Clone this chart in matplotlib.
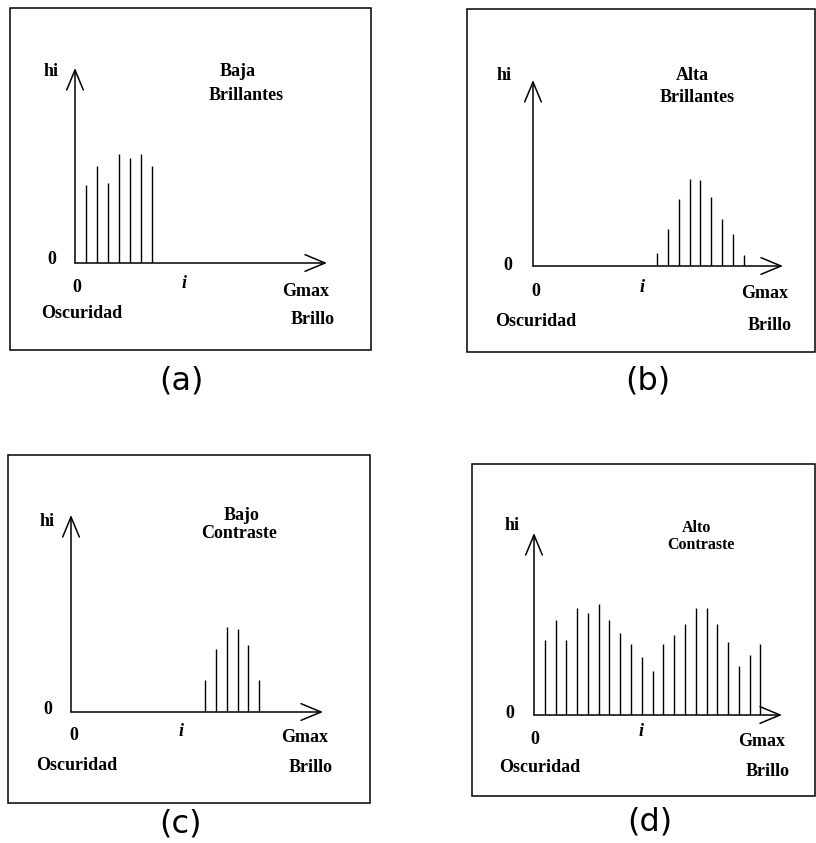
import matplotlib
matplotlib.use("Agg")
import matplotlib.pyplot as plt
from matplotlib.patches import Rectangle

W, H = 816, 843

# histogram data: bin position (in grey-level steps) and relative height
bins_a = [1, 2, 3, 4, 5, 6, 7]
hist_a = [0.40, 0.50, 0.41, 0.56, 0.54, 0.56, 0.50]

bins_b = [11.4, 12.4, 13.4, 14.4, 15.4, 16.4, 17.4, 18.4, 19.4]
hist_b = [0.07, 0.20, 0.36, 0.47, 0.46, 0.37, 0.25, 0.17, 0.06]

bins_c = [12.2, 13.2, 14.2, 15.2, 16.2, 17.2]
hist_c = [0.16, 0.32, 0.43, 0.42, 0.34, 0.16]

bins_d = list(range(1, 22))
hist_d = [0.41, 0.52, 0.41, 0.59, 0.56, 0.61, 0.52, 0.45, 0.39, 0.32, 0.24,
          0.39, 0.44, 0.50, 0.59, 0.59, 0.50, 0.40, 0.27, 0.33, 0.39]

titles = [("Baja", "Brillantes"), ("Alta", "Brillantes"),
          ("Bajo", "Contraste"), ("Alto", "Contraste")]
captions = ["(a)", "(b)", "(c)", "(d)"]

# layout in pixels (x from left, y from top)
panels = [
    dict(box=(10, 8, 371, 350), origin=(75, 263), top=68, end=327,
         hi=(51, 71), t1=(238, 72), t2=(246, 96), tsize=13,
         zy=(52, 260), zx=(77, 287),
         i=(184, 284), gmax=(306, 291), osc=(82, 313), brillo=(313, 320),
         cap=(181, 381)),
    dict(box=(467, 9, 815, 352), origin=(533, 266), top=80, end=783,
         hi=(504, 76), t1=(692, 75), t2=(697, 97), tsize=13,
         zy=(508, 265), zx=(536, 292),
         i=(642, 287), gmax=(765, 294), osc=(536, 321), brillo=(770, 325),
         cap=(648, 381)),
    dict(box=(8, 455, 370, 803), origin=(71, 712), top=515, end=323,
         hi=(47, 521), t1=(242, 515), t2=(239, 534), tsize=13,
         zy=(48, 710), zx=(74, 736),
         i=(181, 731), gmax=(305, 738), osc=(77, 765), brillo=(311, 768),
         cap=(180, 824)),
    dict(box=(472, 464, 815, 796), origin=(534, 715), top=533, end=782,
         hi=(512, 526), t1=(697, 528), t2=(701, 545), tsize=11.5,
         zy=(510, 713), zx=(535, 740),
         i=(641, 731), gmax=(762, 742), osc=(540, 768), brillo=(768, 771),
         cap=(650, 822)),
]
data = [(bins_a, hist_a), (bins_b, hist_b), (bins_c, hist_c), (bins_d, hist_d)]

XMAX = 23.0


def fx(x):
    return x / W


def fy(y):
    return 1 - y / H


fig = plt.figure(figsize=(W / 100, H / 100), dpi=100)
serif = dict(family="Liberation Serif", weight="bold", ha="center", va="center")

for p, (bins, hist), (t1, t2), cap in zip(panels, data, titles, captions):
    l, t, r, b = p["box"]
    fig.patches.append(Rectangle((fx(l), fy(b)), fx(r - l), (b - t) / H,
                                 transform=fig.transFigure, fill=False,
                                 lw=1.1, ec="black"))
    ox, oy = p["origin"]
    ax = fig.add_axes([fx(ox), fy(oy), fx(p["end"] - ox), (oy - p["top"]) / H])
    ax.set_xlim(0, XMAX)
    ax.set_ylim(0, 1)
    ax.axis("off")

    arrow = dict(arrowstyle="->,head_length=1.2,head_width=0.5", lw=1.1,
                 mutation_scale=12, shrinkA=0, shrinkB=0, color="black")
    ax.annotate("", xy=(XMAX, 0), xytext=(0, 0), arrowprops=arrow,
                annotation_clip=False)
    ax.annotate("", xy=(0, 1), xytext=(0, 0), arrowprops=arrow,
                annotation_clip=False)
    ax.vlines(bins, 0, hist, colors="black", lw=1.0)

    fig.text(fx(p["hi"][0]), fy(p["hi"][1]), "hi", fontsize=13, **serif)
    fig.text(fx(p["t1"][0]), fy(p["t1"][1]), t1, fontsize=p["tsize"], **serif)
    fig.text(fx(p["t2"][0]), fy(p["t2"][1]), t2, fontsize=p["tsize"], **serif)
    fig.text(fx(p["zy"][0]), fy(p["zy"][1]), "0", fontsize=13, **serif)
    fig.text(fx(p["zx"][0]), fy(p["zx"][1]), "0", fontsize=13, **serif)
    fig.text(fx(p["i"][0]), fy(p["i"][1]), "i", style="italic", fontsize=13,
             **serif)
    fig.text(fx(p["gmax"][0]), fy(p["gmax"][1]), "Gmax", fontsize=13, **serif)
    fig.text(fx(p["osc"][0]), fy(p["osc"][1]), "Oscuridad", fontsize=13,
             **serif)
    fig.text(fx(p["brillo"][0]), fy(p["brillo"][1]), "Brillo", fontsize=13,
             **serif)
    fig.text(fx(p["cap"][0]), fy(p["cap"][1]), cap, family="DejaVu Sans",
             fontsize=23, ha="center", va="center")

fig.savefig("out.png", dpi=100)
